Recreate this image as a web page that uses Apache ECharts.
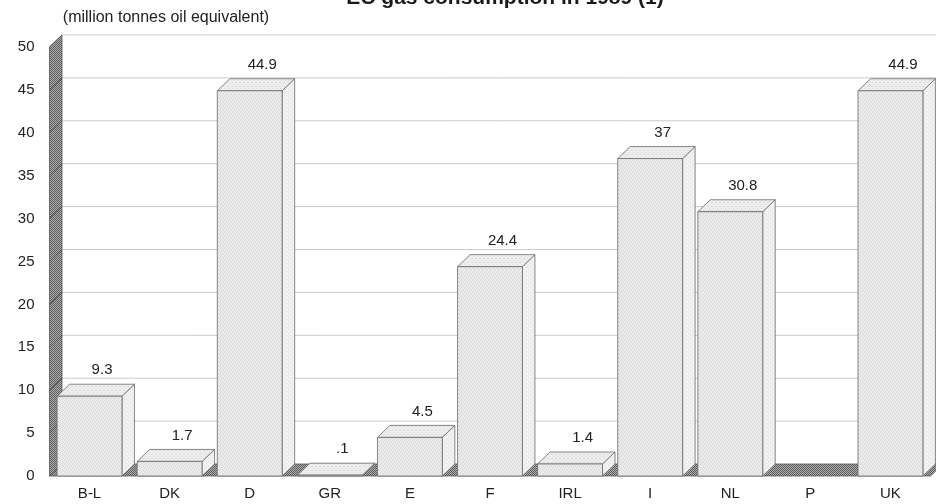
<!DOCTYPE html>
<html>
<head>
<meta charset="utf-8">
<script src="https://cdn.jsdelivr.net/npm/echarts@6/dist/echarts.min.js"></script>
<style>
  html, body { margin: 0; padding: 0; background: #fff; }
  #chart { width: 936px; height: 504px; }
</style>
</head>
<body>
<div id="chart"></div>
<script>
// EC gas consumption by member state, million tonnes oil equivalent
const countries = ['B-L', 'DK', 'D', 'GR', 'E', 'F', 'IRL', 'I', 'NL', 'P', 'UK'];
const consumption = [9.3, 1.7, 44.9, 0.1, 4.5, 24.4, 1.4, 37, 30.8, 0, 44.9];
const yTicks = [0, 5, 10, 15, 20, 25, 30, 35, 40, 45, 50];

const titleText = 'EC gas consumption in 1989 (1)';
const unitText = '(million tonnes oil equivalent)';

// depth of the pseudo-3D projection, in pixels
const DX = 12.5, DY = -12;
const FONT = '"Liberation Sans", Arial, Helvetica, sans-serif';

// small repeating textures for the halftone look
function makeTile(base, dots, dotColor) {
  const c = document.createElement('canvas');
  c.width = 4; c.height = 4;
  const g = c.getContext('2d');
  g.fillStyle = base; g.fillRect(0, 0, 4, 4);
  g.fillStyle = dotColor;
  dots.forEach(([x, y]) => g.fillRect(x, y, 1, 1));
  return { image: c, repeat: 'repeat' };
}
const frontFill = makeTile('#ebebeb', [[0,0],[2,1],[1,3],[3,2]], '#d6d6d6');
const topFill   = makeTile('#eeeeee', [[1,0],[3,2],[0,2]], '#d9d9d9');
const sideFill  = makeTile('#f2f2f2', [[0,1],[2,3]], '#dcdcdc');
const wallFill  = makeTile('#b0b0b0', [[0,0],[2,0],[1,1],[3,1],[0,2],[2,2],[1,3],[3,3]], '#5a5a5a');

const EDGE = '#6a6a6a';

function fmt(v) {
  return String(v).replace(/^0\./, '.');
}

// back wall, gridlines, left wall and floor
function renderFrame(params, api) {
  const cs = params.coordSys;
  const x0 = cs.x, x1 = cs.x + cs.width;
  const children = [];
  const yBase = api.coord([0, 0])[1];
  const yTop = api.coord([0, yTicks[yTicks.length - 1]])[1];

  yTicks.forEach(t => {
    const y = api.coord([0, t])[1];
    if (t > 0) {
      children.push({
        type: 'line',
        shape: { x1: x0 + DX, y1: y + DY, x2: x1 + DX + 20, y2: y + DY },
        style: { stroke: '#cbcbcb', lineWidth: 1 }
      });
    }
  });
  // left wall
  children.push({
    type: 'polygon',
    shape: { points: [[x0, yTop], [x0 + DX, yTop + DY], [x0 + DX, yBase + DY], [x0, yBase]] },
    style: { fill: wallFill, stroke: '#555', lineWidth: 0.8 }
  });
  yTicks.forEach(t => {
    const y = api.coord([0, t])[1];
    children.push({
      type: 'line',
      shape: { x1: x0, y1: y, x2: x0 + DX, y2: y + DY },
      style: { stroke: '#444', lineWidth: 0.8 }
    });
  });
  // floor
  children.push({
    type: 'polygon',
    shape: { points: [[x0, yBase], [x0 + DX, yBase + DY], [x1 + DX, yBase + DY], [x1, yBase]] },
    style: { fill: wallFill, stroke: '#555', lineWidth: 0.8 }
  });
  return { type: 'group', children };
}

// one box per country, value label above its top face
function renderBar(params, api) {
  const idx = api.value(0);
  const v = api.value(1);
  const base = api.coord([idx, 0]);
  const top = api.coord([idx, v]);
  const w = api.size([1, 0])[0] * 0.81;
  const xl = base[0] - w / 2, xr = base[0] + w / 2;
  const yb = base[1], yt = top[1];
  const children = [];
  if (v > 0) {
    children.push({
      type: 'polygon',
      shape: { points: [[xr, yt], [xr + DX, yt + DY], [xr + DX, yb + DY], [xr, yb]] },
      style: { fill: sideFill, stroke: EDGE, lineWidth: 0.8 }
    });
    children.push({
      type: 'polygon',
      shape: { points: [[xl, yt], [xl + DX, yt + DY], [xr + DX, yt + DY], [xr, yt]] },
      style: { fill: topFill, stroke: EDGE, lineWidth: 0.8 }
    });
    children.push({
      type: 'rect',
      shape: { x: xl, y: yt, width: w, height: yb - yt },
      style: { fill: frontFill, stroke: EDGE, lineWidth: 0.8 }
    });
    children.push({
      type: 'text',
      style: {
        x: base[0] + DX, y: yt + DY - 14,
        text: fmt(v),
        align: 'center', verticalAlign: 'middle',
        font: '15px ' + FONT, fill: '#222'
      }
    });
  }
  return { type: 'group', children };
}

const chart = echarts.init(document.getElementById('chart'), null, { renderer: 'canvas' });
chart.setOption({
  animation: false,
  backgroundColor: '#ffffff',
  grid: { left: 49.5, right: 5.5, top: 47, bottom: 28 },
  xAxis: {
    type: 'category',
    data: countries,
    axisLine: { show: false },
    axisTick: { show: false },
    axisLabel: { margin: 10, fontSize: 15, fontFamily: FONT, color: '#222' }
  },
  yAxis: {
    type: 'value',
    min: 0, max: 50, interval: 5,
    axisLine: { show: false },
    axisTick: { show: false },
    splitLine: { show: false },
    axisLabel: { margin: 15, fontSize: 15, fontFamily: FONT, color: '#222' }
  },
  graphic: [
    {
      type: 'text',
      style: {
        x: 505, y: 9, text: titleText, align: 'center', verticalAlign: 'bottom',
        font: 'bold 21px ' + FONT, fill: '#1a1a1a'
      }
    },
    {
      type: 'text',
      style: {
        x: 166, y: 18, text: unitText, align: 'center', verticalAlign: 'middle',
        font: '16px ' + FONT, fill: '#222'
      }
    }
  ],
  series: [
    {
      type: 'custom',
      renderItem: renderFrame,
      data: [[0, 0]],
      silent: true,
      z: 1
    },
    {
      type: 'custom',
      renderItem: renderBar,
      data: consumption.map((v, i) => [i, v]),
      encode: { x: 0, y: 1 },
      z: 2
    }
  ]
});
</script>
</body>
</html>
